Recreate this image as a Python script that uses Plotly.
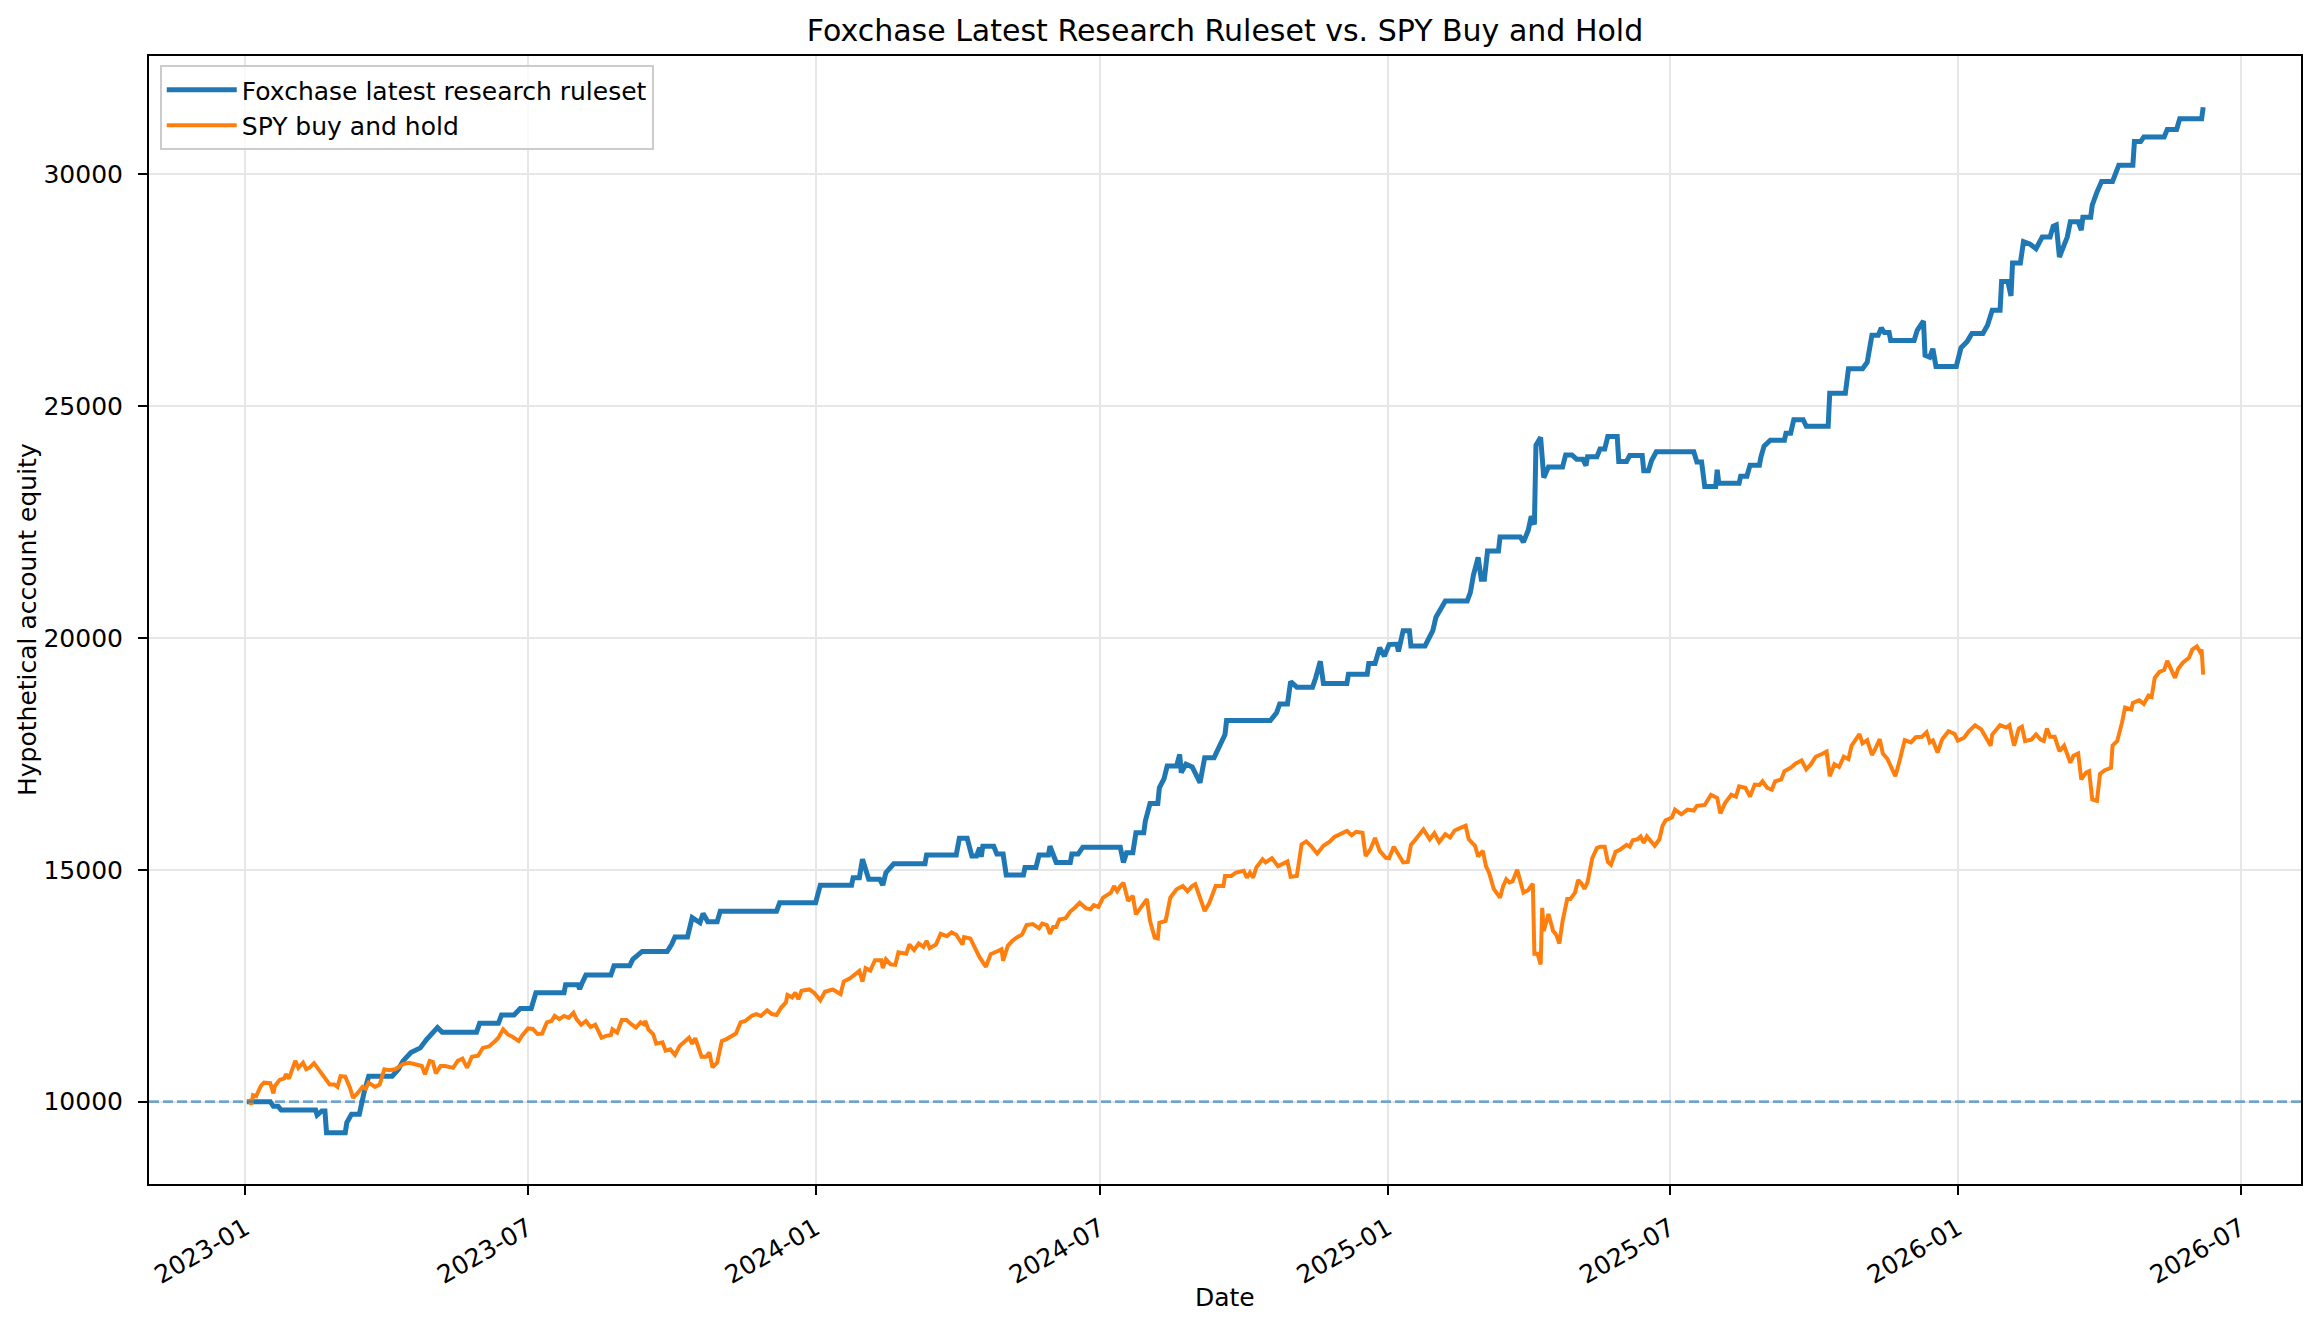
import pandas as pd
import plotly.graph_objects as go

# ---------------- data ----------------
start_date = "2023-01-01"          # day 0 of the day offsets below
starting_equity = 10000            # dashed reference level

title_text = "Foxchase Latest Research Ruleset vs. SPY Buy and Hold"
x_title = "Date"
y_title = "Hypothetical account equity"
strategy_name = "Foxchase latest research ruleset"
spy_name = "SPY buy and hold"

y_tick_values = [10000, 15000, 20000, 25000, 30000]

# (days since start_date, equity)
strategy_points = [
    (1, 10000), (16, 10000), (18, 9900), (21, 9900), (23, 9820), (45, 9820), (46, 9710), (49, 9800),
    (51, 9800), (52, 9330), (64, 9330), (65, 9550), (68, 9730), (73, 9730), (76, 10190), (79, 10550),
    (94, 10550), (98, 10700), (101, 10880), (106, 11060), (112, 11160), (116, 11340), (123, 11600),
    (126, 11500), (148, 11500), (150, 11690), (162, 11690), (164, 11870), (172, 11870), (176, 12010),
    (183, 12010), (186, 12350), (204, 12350), (205, 12520), (213, 12520), (214, 12430), (216, 12590),
    (218, 12730), (234, 12730), (236, 12930), (246, 12930), (248, 13070), (254, 13240), (270, 13240),
    (273, 13400), (275, 13550), (283, 13550), (286, 13970), (291, 13860), (293, 14060), (296, 13880),
    (302, 13880), (304, 14110), (340, 14110), (342, 14290), (365, 14290), (368, 14670), (388, 14670),
    (389, 14830), (393, 14830), (395, 15230), (399, 14800), (406, 14800), (408, 14670), (410, 14940),
    (415, 15130), (435, 15130), (436, 15320), (455, 15320), (457, 15680), (462, 15680), (465, 15300),
    (468, 15300), (470, 15480), (471, 15280), (472, 15510), (479, 15510), (481, 15340), (485, 15340),
    (487, 14890), (498, 14890), (499, 15050), (506, 15050), (508, 15320), (514, 15320), (515, 15510),
    (519, 15160), (528, 15160), (529, 15340), (533, 15340), (536, 15490), (560, 15490), (562, 15160),
    (564, 15370), (568, 15370), (570, 15800), (575, 15800), (576, 16050), (579, 16430), (584, 16430),
    (585, 16770), (588, 16970), (590, 17240), (596, 17240), (598, 17490), (599, 17100), (602, 17280),
    (606, 17220), (611, 16880), (614, 17420), (620, 17420), (624, 17740), (627, 17920), (628, 18220),
    (656, 18220), (660, 18390), (662, 18580), (667, 18580), (669, 19060), (673, 18940), (683, 18940),
    (685, 19140), (688, 19500), (690, 19020), (705, 19020), (706, 19220), (718, 19220), (719, 19450),
    (723, 19450), (726, 19790), (729, 19610), (732, 19860), (737, 19870), (738, 19710), (741, 20160),
    (745, 20160), (746, 19830), (755, 19830), (758, 20060), (760, 20160), (762, 20450), (765, 20650),
    (768, 20800), (782, 20800), (784, 20980), (786, 21360), (789, 21740), (791, 21270), (793, 21270),
    (795, 21880), (802, 21880), (803, 22180), (816, 22180), (818, 22070), (821, 22320), (823, 22630),
    (825, 22450), (826, 24160), (829, 24330), (831, 23460), (834, 23690), (843, 23690), (845, 23950),
    (849, 23950), (852, 23860), (856, 23860), (858, 23720), (859, 23910), (865, 23910), (867, 24080),
    (870, 24080), (872, 24350), (878, 24350), (879, 23810), (884, 23810), (886, 23940), (894, 23940),
    (895, 23610), (898, 23610), (900, 23830), (903, 24020), (927, 24020), (929, 23800), (932, 23800),
    (934, 23270), (941, 23270), (942, 23630), (943, 23340), (956, 23340), (957, 23490), (961, 23490),
    (963, 23730), (969, 23730), (970, 23910), (972, 24140), (976, 24270), (985, 24270), (986, 24420),
    (989, 24420), (991, 24710), (997, 24710), (999, 24570), (1013, 24570), (1014, 25280), (1024, 25280),
    (1026, 25810), (1035, 25810), (1038, 25950), (1039, 26150), (1041, 26530), (1045, 26530),
    (1047, 26690), (1049, 26590), (1052, 26590), (1053, 26420), (1068, 26420), (1070, 26640),
    (1074, 26840), (1075, 26100), (1078, 26060), (1080, 26240), (1082, 25860), (1095, 25860),
    (1098, 26260), (1102, 26400), (1105, 26570), (1112, 26570), (1115, 26750), (1118, 27070),
    (1123, 27070), (1124, 27690), (1128, 27690), (1130, 27380), (1131, 28090), (1136, 28090),
    (1138, 28550), (1142, 28500), (1146, 28400), (1150, 28650), (1155, 28650), (1157, 28880),
    (1159, 28910), (1161, 28220), (1164, 28470), (1166, 28650), (1168, 28980), (1173, 28980),
    (1175, 28800), (1176, 29080), (1181, 29080), (1182, 29340), (1185, 29620), (1188, 29850),
    (1195, 29850), (1199, 30200), (1208, 30200), (1209, 30710), (1213, 30710), (1215, 30810),
    (1228, 30810), (1230, 30970), (1236, 30970), (1238, 31200), (1252, 31200), (1253, 31450),
]

spy_points = [
    (2, 10050), (4, 9940), (5, 10140), (7, 10120), (10, 10340), (12, 10410), (16, 10400), (18, 10180),
    (19, 10340), (22, 10470), (25, 10500), (26, 10590), (28, 10500), (32, 10880), (34, 10730),
    (37, 10840), (39, 10700), (41, 10730), (44, 10830), (48, 10640), (52, 10470), (54, 10370),
    (57, 10370), (59, 10320), (61, 10550), (64, 10540), (67, 10300), (69, 10080), (72, 10190),
    (75, 10320), (77, 10280), (79, 10410), (83, 10320), (86, 10370), (89, 10700), (92, 10680),
    (96, 10700), (101, 10810), (105, 10840), (109, 10810), (113, 10770), (115, 10590), (118, 10880),
    (120, 10860), (122, 10610), (125, 10770), (128, 10770), (133, 10730), (136, 10880), (139, 10930),
    (142, 10730), (145, 10970), (149, 10990), (152, 11160), (156, 11190), (160, 11310), (162, 11380),
    (165, 11560), (168, 11450), (171, 11400), (175, 11310), (177, 11420), (181, 11580), (184, 11570),
    (187, 11460), (190, 11470), (193, 11710), (196, 11740), (198, 11850), (201, 11780), (204, 11850),
    (207, 11810), (210, 11920), (212, 11780), (215, 11660), (218, 11740), (221, 11610), (224, 11660),
    (228, 11380), (231, 11420), (234, 11440), (235, 11560), (238, 11490), (241, 11760), (244, 11760),
    (247, 11670), (250, 11600), (253, 11710), (255, 11670), (256, 11740), (258, 11560), (261, 11460),
    (263, 11250), (267, 11280), (269, 11100), (272, 11130), (275, 11010), (278, 11200), (281, 11280),
    (284, 11380), (286, 11250), (288, 11370), (292, 10970), (295, 10970), (297, 11060), (299, 10740),
    (302, 10840), (305, 11310), (308, 11350), (311, 11420), (314, 11470), (317, 11710), (320, 11740),
    (324, 11850), (327, 11890), (330, 11850), (334, 11970), (337, 11890), (340, 11870), (343, 12030),
    (346, 12140), (347, 12300), (350, 12250), (352, 12350), (354, 12210), (356, 12390), (361, 12420),
    (364, 12350), (368, 12190), (371, 12370), (376, 12420), (381, 12320), (383, 12590), (387, 12660),
    (391, 12760), (393, 12820), (395, 12590), (397, 12880), (400, 12830), (403, 13050), (407, 13050),
    (408, 12880), (410, 13070), (413, 12960), (416, 12950), (418, 13220), (423, 13190), (425, 13390),
    (428, 13270), (431, 13410), (434, 13340), (436, 13470), (438, 13310), (442, 13390), (445, 13620),
    (449, 13570), (452, 13650), (455, 13600), (459, 13390), (460, 13550), (464, 13520), (467, 13320),
    (470, 13110), (474, 12910), (477, 13180), (481, 13240), (484, 13290), (485, 13040), (488, 13360),
    (491, 13470), (494, 13550), (497, 13600), (500, 13810), (504, 13830), (508, 13740), (510, 13840),
    (513, 13810), (515, 13620), (517, 13770), (519, 13770), (521, 13930), (525, 13960), (528, 14100),
    (531, 14190), (534, 14290), (538, 14170), (541, 14150), (543, 14240), (546, 14200), (549, 14400),
    (552, 14470), (554, 14510), (556, 14650), (558, 14540), (560, 14650), (562, 14720), (565, 14330),
    (568, 14440), (570, 14040), (574, 14220), (577, 14370), (579, 13900), (582, 13540), (584, 13520),
    (585, 13860), (589, 13900), (592, 14400), (596, 14580), (600, 14650), (603, 14540), (606, 14650),
    (608, 14690), (611, 14400), (614, 14110), (617, 14290), (621, 14650), (626, 14650), (627, 14870),
    (631, 14870), (634, 14940), (639, 14980), (641, 14830), (643, 14940), (645, 14830), (647, 15050),
    (651, 15230), (653, 15160), (657, 15250), (661, 15080), (665, 15160), (667, 15180), (669, 14850),
    (673, 14870), (676, 15550), (679, 15610), (682, 15520), (686, 15350), (690, 15520), (694, 15610),
    (697, 15710), (700, 15750), (705, 15840), (708, 15750), (711, 15820), (715, 15800), (717, 15300),
    (720, 15440), (723, 15690), (726, 15410), (730, 15260), (732, 15250), (735, 15500), (738, 15330),
    (741, 15160), (744, 15170), (746, 15540), (749, 15660), (754, 15870), (758, 15660), (761, 15790),
    (764, 15600), (768, 15770), (771, 15700), (774, 15850), (778, 15910), (781, 15950), (783, 15660),
    (787, 15520), (789, 15290), (792, 15410), (794, 15080), (796, 14940), (799, 14590), (803, 14400),
    (805, 14650), (807, 14800), (809, 14730), (811, 14750), (814, 15000), (818, 14510), (821, 14560),
    (824, 14700), (825, 13190), (827, 13190), (829, 12960), (830, 14180), (831, 13680), (834, 14050),
    (837, 13680), (839, 13600), (841, 13410), (843, 13890), (846, 14370), (848, 14370), (851, 14510),
    (853, 14780), (855, 14710), (857, 14590), (859, 14730), (862, 15250), (865, 15470), (867, 15500),
    (870, 15500), (872, 15170), (874, 15110), (877, 15390), (880, 15440), (884, 15540), (886, 15500),
    (888, 15640), (891, 15660), (893, 15720), (895, 15580), (897, 15720), (902, 15520), (905, 15660),
    (907, 15950), (909, 16070), (913, 16130), (915, 16300), (919, 16200), (923, 16300), (927, 16280),
    (929, 16380), (934, 16400), (938, 16620), (942, 16550), (944, 16220), (947, 16440), (951, 16620),
    (954, 16580), (956, 16800), (960, 16770), (963, 16580), (966, 16840), (969, 16830), (971, 16910),
    (974, 16770), (977, 16730), (979, 16910), (983, 16950), (985, 17130), (989, 17200), (992, 17290),
    (996, 17360), (999, 17170), (1002, 17280), (1005, 17440), (1009, 17500), (1012, 17550),
    (1014, 17020), (1017, 17280), (1020, 17220), (1023, 17440), (1026, 17390), (1028, 17680),
    (1033, 17930), (1035, 17730), (1038, 17800), (1041, 17480), (1043, 17600), (1046, 17820),
    (1048, 17510), (1051, 17390), (1053, 17240), (1056, 17020), (1059, 17390), (1062, 17800),
    (1066, 17750), (1069, 17860), (1073, 17870), (1076, 17970), (1078, 17750), (1080, 17790),
    (1083, 17530), (1086, 17820), (1090, 17990), (1094, 17930), (1096, 17790), (1100, 17850),
    (1103, 17990), (1107, 18120), (1111, 18030), (1114, 17850), (1117, 17680), (1118, 17920),
    (1123, 18120), (1127, 18070), (1129, 18120), (1132, 17680), (1135, 18050), (1137, 18090),
    (1139, 17780), (1143, 17810), (1146, 17920), (1149, 17810), (1151, 17780), (1153, 18050),
    (1155, 17870), (1158, 17870), (1161, 17560), (1164, 17680), (1168, 17310), (1170, 17460),
    (1173, 17510), (1175, 16950), (1178, 17100), (1180, 17130), (1182, 16520), (1185, 16490),
    (1187, 17070), (1190, 17150), (1194, 17200), (1195, 17680), (1198, 17780), (1201, 18170),
    (1203, 18500), (1207, 18460), (1208, 18600), (1210, 18630), (1212, 18660), (1215, 18580),
    (1218, 18760), (1220, 18730), (1222, 19140), (1225, 19270), (1228, 19310), (1230, 19510),
    (1233, 19290), (1235, 19140), (1237, 19340), (1240, 19470), (1244, 19580), (1246, 19750),
    (1249, 19820), (1251, 19700), (1252, 19750), (1253, 19210),
]

# ---------------- build series ----------------
base = pd.Timestamp(start_date)
strategy_dates = [base + pd.Timedelta(days=d) for d, _ in strategy_points]
strategy_equity = [v for _, v in strategy_points]
spy_dates = [base + pd.Timedelta(days=d) for d, _ in spy_points]
spy_equity = [v for _, v in spy_points]

# matplotlib-like 5% margins around the data
all_dates = strategy_dates + spy_dates
all_vals = strategy_equity + spy_equity + [starting_equity]
x_min, x_max = min(all_dates), max(all_dates)
x_pad = (x_max - x_min) * 0.05
y_min, y_max = min(all_vals), max(all_vals)
y_pad = (y_max - y_min) * 0.05

FONT = "DejaVu Sans"
BLUE = "#1f77b4"
ORANGE = "#ff7f0e"
FS = 25

fig = go.Figure()
fig.add_trace(go.Scatter(
    x=strategy_dates, y=strategy_equity, mode="lines", name=strategy_name,
    line=dict(color=BLUE, width=5),
))
fig.add_trace(go.Scatter(
    x=spy_dates, y=spy_equity, mode="lines", name=spy_name,
    line=dict(color=ORANGE, width=4),
))
fig.add_shape(
    type="line", xref="paper", x0=0, x1=1, yref="y", y0=starting_equity, y1=starting_equity,
    line=dict(color="rgba(31,119,180,0.6)", width=2.6, dash="10px,4px"),
)

fig.update_layout(
    width=2320, height=1329,
    margin=dict(l=149, r=19, t=56, b=145),
    paper_bgcolor="white", plot_bgcolor="white",
    font=dict(family=FONT, size=FS, color="black"),
    title=dict(text=title_text, x=0.5, xref="paper", xanchor="center",
               y=1 - 30 / 1329, yref="container", yanchor="middle",
               font=dict(family=FONT, size=30, color="black")),
    showlegend=True,
    legend=dict(
        x=0.005, y=0.992, xanchor="left", yanchor="top",
        bgcolor="rgba(255,255,255,0.8)", bordercolor="#cccccc", borderwidth=2,
        font=dict(family=FONT, size=FS, color="black"),
        itemwidth=70, tracegroupgap=0,
    ),
    annotations=[
        dict(text=x_title, xref="paper", yref="paper", x=0.5, y=-(1297 - 1184) / 1128,
             xanchor="center", yanchor="middle", showarrow=False,
             font=dict(family=FONT, size=FS, color="black")),
        dict(text=y_title, xref="paper", yref="paper", x=-(149 - 27) / 2152, y=0.5,
             xanchor="center", yanchor="middle", textangle=-90, showarrow=False,
             font=dict(family=FONT, size=FS, color="black")),
    ],
)

fig.update_xaxes(
    type="date", range=[x_min - x_pad, x_max + x_pad],
    tick0="2023-01-01", dtick="M6", tickformat="%Y-%m", tickangle=-30,
    ticks="outside", ticklen=9, tickwidth=2, tickcolor="black",
    tickfont=dict(family=FONT, size=FS, color="black"),
    ticklabelstandoff=9,
    showline=True, linecolor="black", linewidth=2, mirror=True,
    showgrid=True, gridcolor="#e7e7e7", gridwidth=1.8, zeroline=False,
)
fig.update_yaxes(
    range=[y_min - y_pad, y_max + y_pad],
    tickvals=y_tick_values, tickformat="d",
    ticks="outside", ticklen=9, tickwidth=2, tickcolor="black",
    tickfont=dict(family=FONT, size=FS, color="black"),
    ticklabelstandoff=10,
    showline=True, linecolor="black", linewidth=2, mirror=True,
    showgrid=True, gridcolor="#e7e7e7", gridwidth=1.8, zeroline=False,
)

fig.write_html("out.html")
